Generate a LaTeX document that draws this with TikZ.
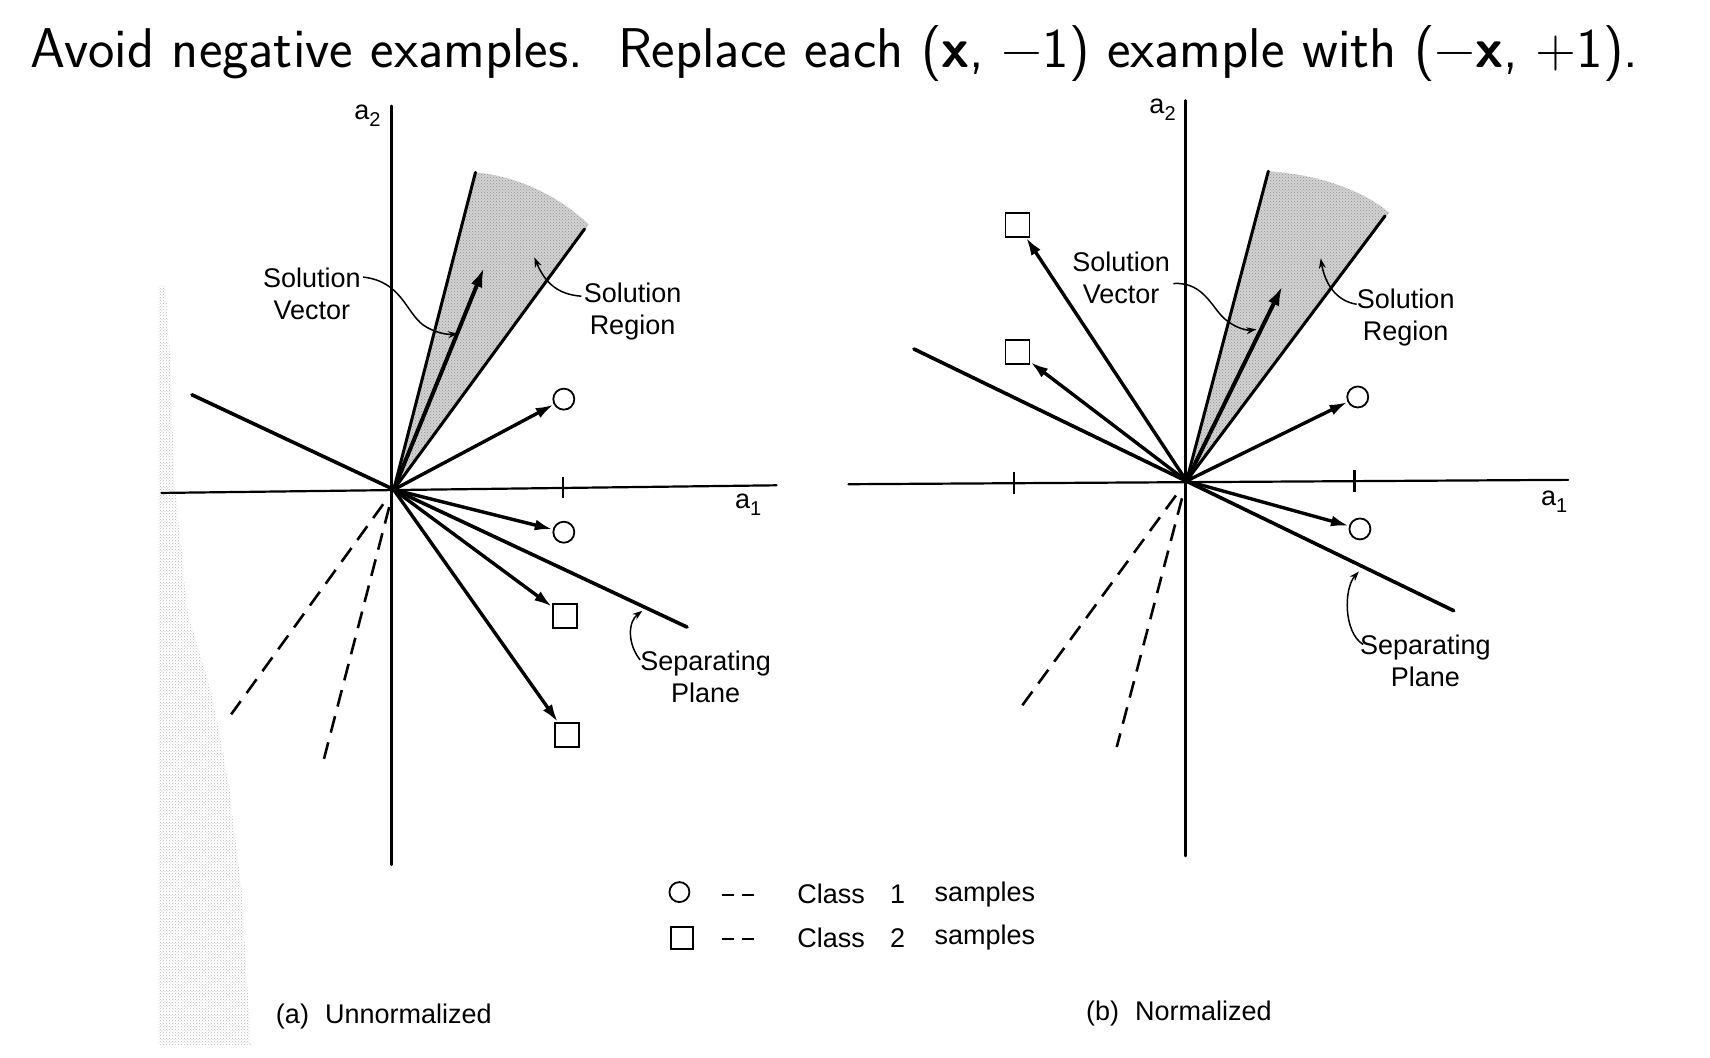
\documentclass[tikz,border=0pt]{standalone}
\usepackage{fontspec}
\newfontfamily\figfont{Liberation Sans}
\usetikzlibrary{arrows.meta,patterns}
\begin{document}
\begin{tikzpicture}[x=1.0906pt,y=-1.0906pt,
  axisline/.style={line width=2.2pt, line cap=round},
  planeline/.style={line width=3.6pt, line cap=round},
  wedgeline/.style={line width=3pt, line cap=round},
  vecarrow/.style={line width=3.4pt, -{Latex[length=18pt,width=11pt]}},
  solarrow/.style={line width=4pt, -{Latex[length=20pt,width=12pt]}},
  dashline/.style={line width=2.6pt, dash pattern=on 17pt off 10pt, shorten <=18pt},
  leader/.style={line width=1.5pt, -{Stealth[length=10pt,width=7pt]}},
  circsamp/.style={circle, draw, line width=1.8pt, minimum size=21pt, inner sep=0pt},
  sqsamp/.style={rectangle, draw, line width=1.8pt, minimum size=24pt, inner sep=0pt},
  lbl/.style={font=\figfont\fontsize{27}{32}\selectfont, align=center, inner sep=0pt},
  stipple/.style={pattern=crosshatch dots, pattern color=gray!55},
  wedgefill/.style={fill=gray!35, postaction={pattern=crosshatch dots, pattern color=gray!85}},
  tick/.style={line width=2.2pt}
]
\useasboundingbox (0,0) rectangle (1568,970);

% title
\node[anchor=base west, inner sep=0pt, font=\sffamily\fontsize{56}{64}\selectfont] (title) at (28,62)
  {Avoid negative examples.\ \ Replace each (\textbf{x}, \textminus1) example with (\textminus\textbf{x}, +1).};

% scan stipple on the left edge
\fill[stipple] (145,262) -- (152,262) -- (156,330) -- (160,440) -- (172,560) -- (195,640) -- (210,720) -- (222,820) -- (230,958) -- (145,958) -- cycle;

% ================= panel (a) =================
\coordinate (Oa) at (361,449);
\coordinate (WaL) at (436,158);
\coordinate (WaR) at (536,210);
\fill[wedgefill] (Oa) -- (WaL) .. controls (478,162) and (515,182) .. (540,206) -- cycle;
\draw[axisline] (359,97) -- (359,793);
\draw[axisline] (148,452) -- (712,445);
\draw[tick] (516,437) -- (516,457);
\node[lbl] (a2a) at (337,106) {a\raisebox{-7pt}{\fontsize{20}{20}\selectfont 2}};
\node[lbl] (a1a) at (686,463) {a\raisebox{-7pt}{\fontsize{20}{20}\selectfont 1}};

\draw[wedgeline] (Oa) -- (WaL);
\draw[wedgeline] (Oa) -- (WaR);
\coordinate (SVa) at (444,245);
\draw[solarrow] (Oa) -- (SVa);

\coordinate (PaL) at (176,362);
\coordinate (PaR) at (630,575);
\draw[planeline] (PaL) -- (PaR);

\node[circsamp] (ca1) at (517,366) {};
\node[circsamp] (ca2) at (517,488) {};
\node[sqsamp] (sa1) at (518,565) {};
\node[sqsamp] (sa2) at (520,674) {};
\draw[vecarrow] (Oa) -- (ca1);
\draw[vecarrow] (Oa) -- (ca2);
\draw[vecarrow] (Oa) -- (sa1);
\draw[vecarrow] (Oa) -- (sa2);

\coordinate (Da1) at (212,655);
\coordinate (Da2) at (296,700);
\draw[dashline] (Oa) -- (Da1);
\draw[dashline] (Oa) -- (Da2);

\node[lbl] (lSVa) at (286,269) {Solution\\Vector};
\node[lbl] (lSRa) at (580,286) {Solution\\Region};
\node[lbl] (lSPa) at (647,621) {Separating\\Plane};
\draw[leader] (lSVa.north east) ++(2,9) .. controls (368,258) and (372,286) .. (388,298) .. controls (398,305) and (410,307) .. (420,306);
\draw[leader] (lSRa.north west) ++(-2,12) .. controls (512,270) and (500,260) .. (490,236);
\draw[leader] (lSPa.north west) ++(0,8) .. controls (575,590) and (576,570) .. (589,560);

\node[lbl] (capa) at (352,932) {(a)\hspace{0.6em}Unnormalized};

% ================= panel (b) =================
\coordinate (Ob) at (1088,441);
\coordinate (WbL) at (1163,157);
\coordinate (WbR) at (1270,198);
\fill[wedgefill] (Ob) -- (WbL) .. controls (1210,160) and (1250,175) .. (1274,195) -- cycle;
\draw[axisline] (1087,92) -- (1087,785);
\draw[axisline] (778,444) -- (1438,440);
\draw[tick] (930,433) -- (930,453);
\draw[tick] (1242,431) -- (1242,451);
\node[lbl] (a2b) at (1066,101) {a\raisebox{-7pt}{\fontsize{20}{20}\selectfont 2}};
\node[lbl] (a1b) at (1425,460) {a\raisebox{-7pt}{\fontsize{20}{20}\selectfont 1}};

\draw[wedgeline] (Ob) -- (WbL);
\draw[wedgeline] (Ob) -- (WbR);
\coordinate (SVb) at (1176,262);
\draw[solarrow] (Ob) -- (SVb);

\coordinate (PbL) at (838,320);
\coordinate (PbR) at (1333,560);
\draw[planeline] (PbL) -- (PbR);

\node[sqsamp] (sb1) at (933,206) {};
\node[sqsamp] (sb2) at (933,323) {};
\node[circsamp] (cb1) at (1245,364) {};
\node[circsamp] (cb2) at (1247,485) {};
\draw[vecarrow] (Ob) -- (sb1);
\draw[vecarrow] (Ob) -- (sb2);
\draw[vecarrow] (Ob) -- (cb1);
\draw[vecarrow] (Ob) -- (cb2);

\coordinate (Db1) at (935,650);
\coordinate (Db2) at (1024,685);
\draw[dashline] (Ob) -- (Db1);
\draw[dashline] (Ob) -- (Db2);

\node[lbl] (lSVb) at (1028,255) {Solution\\Vector};
\node[lbl] (lSRb) at (1289,291) {Solution\\Region};
\node[lbl] (lSPb) at (1307,606) {Separating\\Plane};
\draw[leader] (1076,260) .. controls (1105,258) and (1112,285) .. (1125,294) .. controls (1135,302) and (1145,303) .. (1152,302);
\draw[leader] (1244,279) .. controls (1225,276) and (1215,260) .. (1211,237);
\draw[leader] (1250,591) .. controls (1232,580) and (1232,540) .. (1246,524);

\node[lbl] (capb) at (1081,929) {(b)\hspace{0.6em}Normalized};

% ================= legend =================
\node[circsamp, minimum size=20pt] (legc) at (623,818) {};
\node[sqsamp, minimum size=22pt] (legs) at (625,860) {};
\draw[line width=2pt] (662,821) -- (673,821) (680,821) -- (691,821);
\draw[line width=2pt] (662,861) -- (673,861) (680,861) -- (691,861);
\node[lbl] (lc1) at (762,820) {Class};
\node[lbl] (ln1) at (823,820) {1};
\node[lbl] (ls1) at (903,820) {samples};
\node[lbl] (lc2) at (762,860) {Class};
\node[lbl] (ln2) at (823,860) {2};
\node[lbl] (ls2) at (903,860) {samples};
\end{tikzpicture}
\end{document}
